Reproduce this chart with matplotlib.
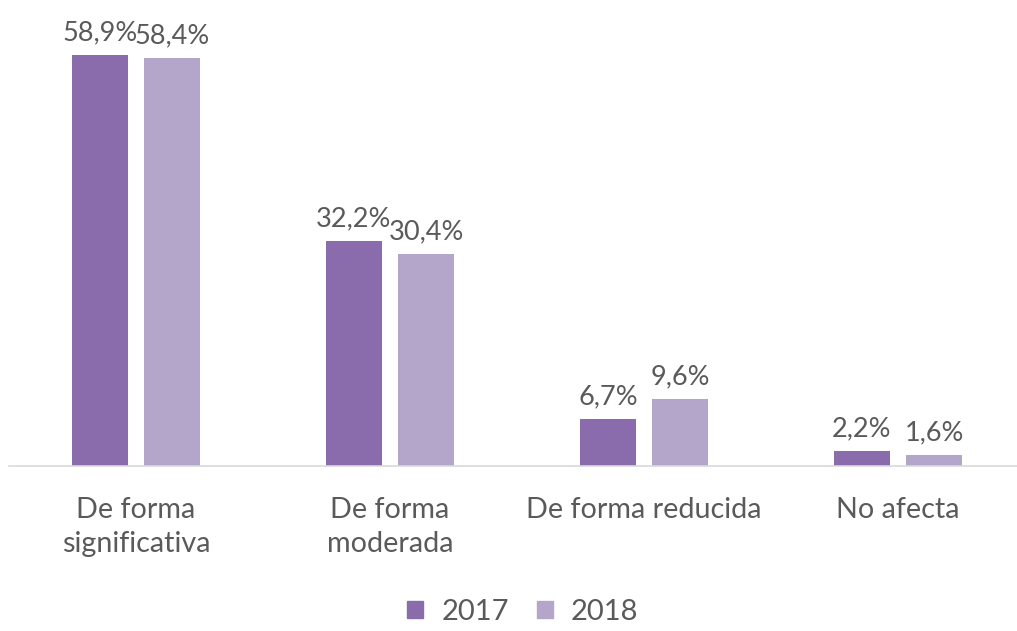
import matplotlib
matplotlib.use("Agg")
import matplotlib.pyplot as plt
import numpy as np
from matplotlib.patches import Patch

categories = ["De forma\nsignificativa", "De forma\nmoderada", "De forma reducida", "No afecta"]
series_names = ["2017", "2018"]
values_2017 = [58.9, 32.2, 6.7, 2.2]
values_2018 = [58.4, 30.4, 9.6, 1.6]
colors = ["#8a6cac", "#b4a5ca"]

plt.rcParams['font.family'] = ['Lato', 'DejaVu Sans']
text_color = "#5a5a5a"

fig = plt.figure(figsize=(10.17, 6.31), dpi=100)
ax = fig.add_axes([9/1017, 1 - 466/631, 1016/1017, 454/631])

x = np.arange(len(categories))
w = 0.22
off = 0.142
for vals, dx, col in [(values_2017, -off, colors[0]), (values_2018, off, colors[1])]:
    bars = ax.bar(x + dx, vals, width=w, color=col, zorder=2)
    for b, v in zip(bars, vals):
        ax.annotate(f"{v:.1f}%".replace(".", ","), (b.get_x() + b.get_width() / 2, v),
                    xytext=(0, 7), textcoords="offset points", ha="center", va="bottom",
                    fontsize=19.5, color=text_color)

ax.set_xlim(-0.5, 3.5)
ax.set_ylim(0, 65)
ax.set_xticks(x)
ax.set_xticklabels(categories, fontsize=20.7, color=text_color, linespacing=1.4)
ax.tick_params(axis='x', length=0, pad=22)
ax.set_yticks([])
for s in ["top", "right", "left"]:
    ax.spines[s].set_visible(False)
ax.spines["bottom"].set_color("#d9d9d9")
ax.spines["bottom"].set_linewidth(1.2)

handles = [Patch(color=c) for c in colors]
fig.legend(handles, series_names, loc="center", bbox_to_anchor=(523/1017, 1 - 612/631),
           ncol=2, frameon=False, prop={"size": 21}, labelcolor=text_color,
           handlelength=0.55, handleheight=0.55, handletextpad=0.62, columnspacing=0.96)

fig.savefig("out.png", dpi=100)
